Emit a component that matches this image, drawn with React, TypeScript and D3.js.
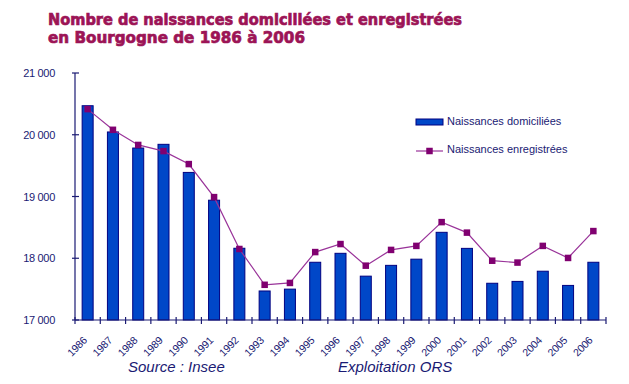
import React from "react";
import * as d3 from "d3";

const years = ["1986","1987","1988","1989","1990","1991","1992","1993","1994","1995","1996","1997","1998","1999","2000","2001","2002","2003","2004","2005","2006"];
const domiciliees = [20470,20045,19785,19845,19390,18940,18162,17470,17500,17935,18080,17710,17885,17985,18420,18160,17595,17625,17790,17560,17935];
const enregistrees = [20415,20080,19835,19735,19525,18990,18150,17570,17600,18100,18230,17880,18135,18200,18585,18415,17960,17930,18200,18005,18440];
const yTicks = [17000,18000,19000,20000,21000];

const W = 629, H = 384;
const left = 75, right = 606, top = 73, bottom = 320;
const navy = "#1a1a73";

export default function App() {
  const x = d3.scaleBand<string>().domain(years).range([left, right]).padding(0);
  const y = d3.scaleLinear().domain([17000, 21000]).range([bottom, top]);
  const bw = 11;
  const cx = (yr: string) => (x(yr) as number) + x.bandwidth() / 2;
  const line = d3.line<number>().x((_, i) => cx(years[i])).y(d => y(d));
  const fmt = (v: number) => d3.format(",")(v).replace(",", " ");
  const boundaries = years.map(yr => x(yr) as number).concat([right]);
  const ms = 6.5;
  return (
    <svg width={W} height={H} style={{ position: "absolute", left: 0, top: 0 }} fontFamily="Liberation Sans, Arial, sans-serif">
      <rect width={W} height={H} fill="#fff" />
      <g fill="#9c1456" stroke="#9c1456" strokeWidth={0.7} fontFamily="DejaVu Sans, sans-serif" fontWeight="bold" fontSize={15.5}>
        <text x={48} y={25} textLength={414} lengthAdjust="spacingAndGlyphs">Nombre de naissances domiciliées et enregistrées</text>
        <text x={48} y={43.2} textLength={257} lengthAdjust="spacingAndGlyphs">en Bourgogne de 1986 à 2006</text>
      </g>
      {years.map((yr, i) => (
        <rect key={yr} x={cx(yr) - bw / 2} y={y(domiciliees[i])} width={bw} height={bottom - y(domiciliees[i])}
          fill="#0047c8" stroke="#000080" strokeWidth={1} />
      ))}
      <path d={line(enregistrees) || ""} fill="none" stroke="#993399" strokeWidth={1.2} />
      {years.map((yr, i) => (
        <rect key={"m" + yr} x={cx(yr) - ms / 2} y={y(enregistrees[i]) - ms / 2} width={ms} height={ms} fill="#800070" />
      ))}
      <line x1={left} x2={left} y1={top} y2={bottom} stroke={navy} strokeWidth={1.2} />
      <line x1={left} x2={right} y1={bottom} y2={bottom} stroke={navy} strokeWidth={1.2} />
      {yTicks.map(t => (
        <g key={t}>
          <line x1={left - 3} x2={left + 4} y1={y(t)} y2={y(t)} stroke={navy} strokeWidth={1.2} />
          <text x={55} y={y(t) + 4} textAnchor="end" fontSize={11} fill={navy} letterSpacing={-0.3}>{fmt(t)}</text>
        </g>
      ))}
      {boundaries.map((b, i) => (
        <line key={"t" + i} x1={b} x2={b} y1={bottom - 3} y2={bottom + 4} stroke={navy} strokeWidth={1.2} />
      ))}
      {years.map(yr => (
        <text key={"l" + yr} transform={`translate(${cx(yr)},${bottom + 21}) rotate(-45)`} textAnchor="end"
          fontSize={10.5} fill={navy} letterSpacing={-0.2}>{yr}</text>
      ))}
      <g fontSize={11} fill={navy}>
        <rect x={416} y={119} width={27} height={6} fill="#0047c8" stroke="#000080" strokeWidth={1} />
        <text x={447} y={125}>Naissances domiciliées</text>
        <line x1={416} x2={443} y1={151} y2={151} stroke="#993399" strokeWidth={1.2} />
        <rect x={429.5 - ms / 2} y={151 - ms / 2} width={ms} height={ms} fill="#800070" />
        <text x={447} y={153}>Naissances enregistrées</text>
      </g>
      <g fontSize={15} fontStyle="italic" fill={navy}>
        <text x={128} y={372}>Source : Insee</text>
        <text x={338} y={372}>Exploitation ORS</text>
      </g>
    </svg>
  );
}
